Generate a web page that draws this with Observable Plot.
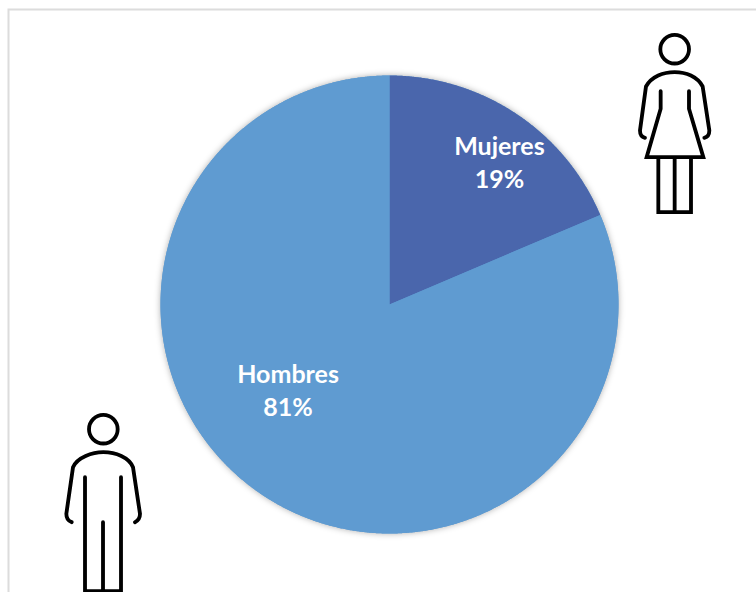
<!DOCTYPE html>
<html lang="es">
<head>
<meta charset="utf-8">
<script src="https://cdn.jsdelivr.net/npm/d3@7"></script>
<script src="https://cdn.jsdelivr.net/npm/@observablehq/plot@0.6"></script>
<style>
html,body{margin:0;padding:0;background:#fff;overflow:hidden}
svg{display:block}
.pie{filter:drop-shadow(0 0 3px rgba(0,0,0,.32))}
</style>
</head>
<body>
<div id="chart"></div>
<script>
const categories = ["Mujeres", "Hombres"];
const shares = [18.6, 81.4];
const colors = ["#4a66ac", "#5f9bd1"];

const womanIcon = `<svg xmlns="http://www.w3.org/2000/svg" viewBox="0 0 330 630"><g fill="none" stroke="#000" stroke-width="11.5" stroke-linecap="round" stroke-linejoin="miter"><circle cx="164" cy="86" r="43"/><path d="M75 352Q60 348 60 330L78 198C95 168 130 155 164 155C198 155 232 168 248 198L268 330Q268 348 253 352"/><path d="M122 212L122 265L80 410L250 410L207 265L207 212"/><path d="M115 410L115 575L213 575L213 410M164 410L164 575" stroke-linecap="butt"/></g></svg>`;
const manIcon = `<svg xmlns="http://www.w3.org/2000/svg" viewBox="0 0 330 576"><g fill="none" stroke="#000" stroke-width="11.5" stroke-linecap="round" stroke-linejoin="miter"><circle cx="163" cy="86" r="43"/><path d="M68 365Q52 360 52 340L72 200C85 170 130 155 163 155C200 155 240 170 252 200L273 340Q273 358 258 365"/><path d="M108 230L108 572L216 572L216 230M162 365L162 572"/></g></svg>`;
const uri = s => "data:image/svg+xml;utf8," + encodeURIComponent(s);

const total = d3.sum(shares);
let acc = 0;
const slices = categories.map((name, i) => {
  const a0 = acc / total * 2 * Math.PI;
  acc += shares[i];
  const a1 = acc / total * 2 * Math.PI;
  const n = Math.ceil((a1 - a0) / 0.005);
  const pts = [{x: 0, y: 0}];
  for (let k = 0; k <= n; k++) {
    const a = a0 + (a1 - a0) * k / n;
    pts.push({x: Math.sin(a), y: Math.cos(a)});
  }
  return {name, share: shares[i], color: colors[i], pts};
});

const labelAt = {Mujeres: [0.48, 0.625], Hombres: [-0.443, -0.37]};
const labels = slices.map(s => ({
  x: labelAt[s.name][0],
  y: labelAt[s.name][1],
  text: `${s.name}\n${Math.round(s.share)}%`
}));

const chart = Plot.plot({
  width: 756,
  height: 592,
  marginLeft: 8,
  marginTop: 9,
  marginRight: -20,
  marginBottom: -20,
  style: {background: "#fff", overflow: "hidden"},
  x: {domain: [-1, 1], range: [160, 618], axis: null},
  y: {domain: [-1, 1], range: [533, 75], axis: null},
  marks: [
    Plot.frame({stroke: "#dcdcdc", strokeWidth: 2}),
    // Shadow sits under both slices, so it is drawn as one full disc first.
    Plot.line(slices.flatMap(s => s.pts), {x: "x", y: "y", fill: colors[1], stroke: "none", className: "pie"}),
    ...slices.map(s => Plot.line(s.pts, {x: "x", y: "y", fill: s.color, stroke: "none"})),
    Plot.text(labels, {
      x: "x", y: "y", text: "text",
      fill: "#fff", fontFamily: "Lato", fontWeight: 700, fontSize: 25, lineHeight: 1.32
    }),
    Plot.image([{x: 1.2467, y: 0.7817}], {x: "x", y: "y", src: () => uri(womanIcon), width: 110, height: 210}),
    Plot.image([{x: -1.2467, y: -0.8385}], {x: "x", y: "y", src: () => uri(manIcon), width: 110, height: 192})
  ]
});
document.getElementById("chart").appendChild(chart);
</script>
</body>
</html>
